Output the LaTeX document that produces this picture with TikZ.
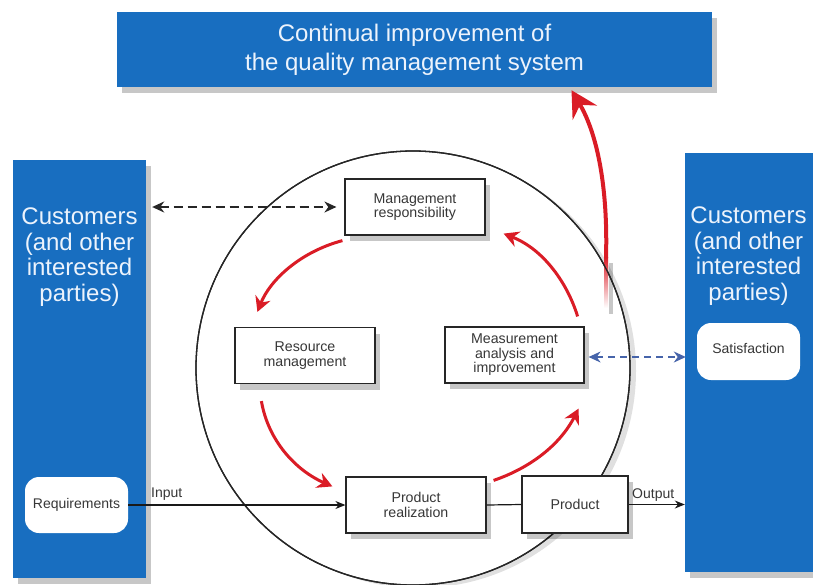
\documentclass[tikz,border=0pt]{standalone}
\usepackage{fontspec}
\setmainfont{Liberation Sans}
\usetikzlibrary{arrows.meta,shadows,calc}
\definecolor{qblue}{RGB}{24,110,192}
\definecolor{qred}{RGB}{218,28,38}
\definecolor{qtext}{RGB}{55,55,55}
\definecolor{qdash}{RGB}{70,100,170}
\definecolor{qwhite}{RGB}{236,243,252}
\begin{document}
\begin{tikzpicture}[x=1pt,y=-1pt,
  shade/.style={drop shadow={shadow xshift=5pt,shadow yshift=-6pt,opacity=0.22,fill=black}},
  bluebox/.style={fill=qblue, draw=none, inner sep=0pt, shade},
  bigtext/.style={text=qwhite, align=center, font=\fontsize{24}{25.5}\selectfont},
  procbox/.style={draw=black!85, line width=1.2pt, fill=white, minimum width=140pt, minimum height=56pt,
     inner sep=0pt, align=center, text=qtext, font=\fontsize{14.2}{14.5}\selectfont, shade},
  custbox/.style={draw=none, fill=white, rounded corners=14pt, minimum width=103pt, minimum height=56pt, inner sep=0pt},
  smalltext/.style={text=qtext, font=\fontsize{14}{14.5}\selectfont, inner sep=0pt},
  flow/.style={draw=black!90, line width=1.2pt},
  redarrow/.style={draw=qred, line width=3pt, -{Stealth[length=15pt,width=16pt,inset=5pt]}},
  loopstyle/.style={circle, draw=black!85, line width=1.3pt, minimum size=434pt, inner sep=0pt},
]
\useasboundingbox[fill=white] (0,0) rectangle (813,584);

% loop circle
\node[loopstyle, fill=white,
  drop shadow={shadow xshift=6pt,shadow yshift=-3pt,opacity=0.12,fill=black}] (loop) at (413,368) {};

% fading tail of the improvement arrow
\shade[top color=qred, bottom color=white] (604,257) rectangle (608,308);
\node[loopstyle] (loopline) at (loop.center) {};

% top box
\node[bluebox, minimum width=595pt, minimum height=75pt, bigtext,
  font=\fontsize{24}{29}\selectfont] (top) at (414.5,49.5)
  {Continual improvement of\\the quality management system};

% side boxes
\node[bluebox, minimum width=133pt, minimum height=418pt] (leftblue) at (79.5,369) {};
\node[bluebox, minimum width=128pt, minimum height=419pt] (rightblue) at (749,362.5) {};
\node[bigtext] (lefttext) at (79.5,257) {Customers\\(and other\\interested\\parties)};
\node[bigtext] (righttext) at (748.5,256) {Customers\\(and other\\interested\\parties)};

\node[custbox] (req) at (76.5,505) {};
\node[smalltext] (reqtext) at (req.center) {Requirements};
\node[custbox, minimum height=57pt] (sat) at (748.5,351.5) {};
\node[smalltext] (sattext) at (748.5,348) {Satisfaction};

% process boxes
\node[procbox] (mgmt) at (415,207) {Management\\responsibility};
\node[procbox] (res) at (305,355.5) {Resource\\management};
\node[procbox, minimum width=139pt] (meas) at (514.5,355) {Measurement\\analysis and\\improvement};
\node[procbox] (prod) at (416,505) {Product\\realization};
\node[procbox, minimum width=106pt, minimum height=57pt] (product) at (575,504.5) {Product};

% flows
\draw[flow, -{Stealth[length=10pt,width=8pt]}] (req.east) -- (prod.west);
\draw[flow] (prod.east) -- (product.west);
\draw[flow, -{Stealth[length=10pt,width=8pt]}] (product.east) -- (rightblue.west |- product.east);
\node[smalltext, anchor=base west] (inlabel) at (151,497) {Input};
\node[smalltext, anchor=base west] (outlabel) at (632,498) {Output};

% dashed links
\draw[draw=black!85, line width=1.8pt, dash pattern=on 9pt off 5pt,
  {Stealth[length=12pt,width=11pt]}-{Stealth[length=12pt,width=11pt]}]
  ($(leftblue.east |- mgmt.west)+(6,0)$) -- ($(mgmt.west)+(-8,0)$);
\draw[draw=qdash, line width=1.4pt, dash pattern=on 7pt off 5pt,
  {Stealth[length=12pt,width=11pt]}-{Stealth[length=12pt,width=11pt]}]
  ($(meas.east)+(4,2)$) -- ($(rightblue.west |- meas.east)+(1,2)$);

% red cycle arrows
\draw[redarrow] ($(mgmt.south west)+(-2,5)$) .. controls (300,252) and (270,280) .. ($(res.north west)+(23,-15)$);
\draw[redarrow] ($(res.south west)+(27,17)$) .. controls (268,440) and (295,470) .. ($(prod.north west)+(-13,10)$);
\draw[redarrow] ($(prod.north east)+(7,4)$) .. controls (530,468) and (560,445) .. ($(meas.south east)+(-6,25)$);
\draw[redarrow] ($(meas.north east)+(-7,-10)$) .. controls (568,285) and (545,250) .. ($(mgmt.south east)+(18,-2)$);

% big improvement arrow
\draw[draw=qred, line width=4pt, -{Stealth[length=26pt,width=28pt,inset=9pt]}]
  (606,258) .. controls (608,190) and (598,135) .. ($(top.south)+(157,3)$);
\end{tikzpicture}
\end{document}
